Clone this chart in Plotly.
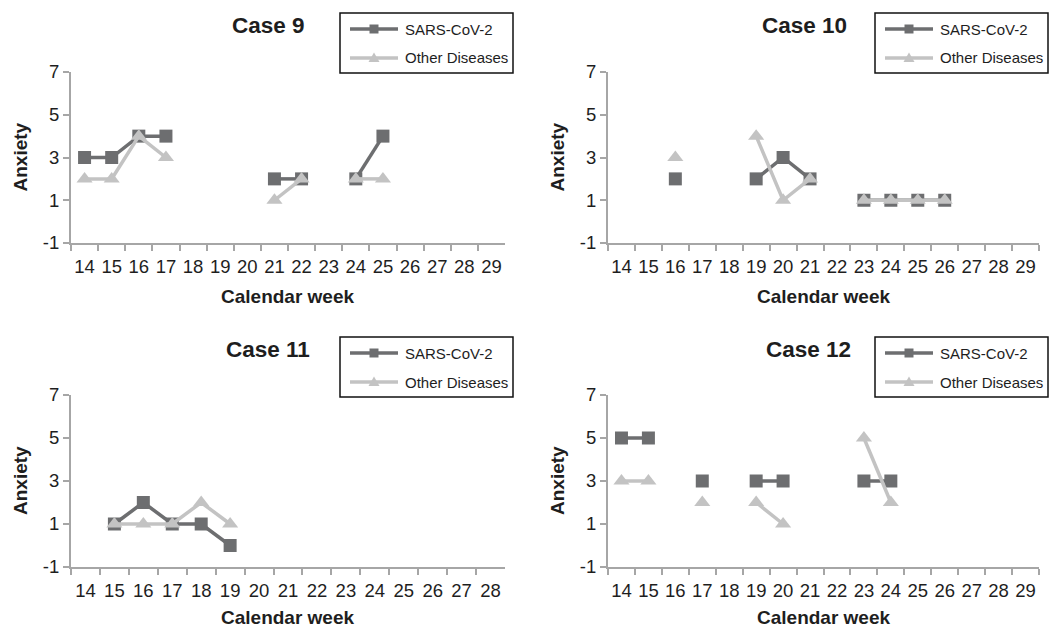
import plotly.graph_objects as go

weeks_a = [str(w) for w in range(14, 30)]
weeks_c11 = [str(w) for w in range(14, 29)]

case9_sars = [3, 3, 4, 4, None, None, None, 2, 2, None, 2, 4, None, None, None, None]
case9_other = [2, 2, 4, 3, None, None, None, 1, 2, None, 2, 2, None, None, None, None]

case10_sars = [None, None, 2, None, None, 2, 3, 2, None, 1, 1, 1, 1, None, None, None]
case10_other = [None, None, 3, None, None, 4, 1, 2, None, 1, 1, 1, 1, None, None, None]

case11_sars = [None, 1, 2, 1, 1, 0, None, None, None, None, None, None, None, None, None]
case11_other = [None, 1, 1, 1, 2, 1, None, None, None, None, None, None, None, None, None]

case12_sars = [5, 5, None, 3, None, 3, 3, None, None, 3, 3, None, None, None, None, None]
case12_other = [3, 3, None, 2, None, 2, 1, None, None, 5, 2, None, None, None, None, None]

titles = ["Case 9", "Case 10", "Case 11", "Case 12"]
series_names = ["SARS-CoV-2", "Other Diseases"]
y_ticks = [-1, 1, 3, 5, 7]
y_ticktext = ["-1", "1", "3", "5", "7"]

DARK = "#6d6e70"
LIGHT = "#c3c3c3"
AXIS = "#a6a6a6"
TXT = "#1e1e1e"
FONT = "Liberation Sans, Arial, sans-serif"

W, H = 1053, 628


def px(x):
    return x / W


def py(y):
    return 1 - y / H


panels = [
    dict(x=weeks_a, s=case9_sars, o=case9_other, px=(71, 505), py=(72, 243),
         title=(268, 25), leg=(340, 13), xt=297),
    dict(x=weeks_a, s=case10_sars, o=case10_other, px=(608, 1039), py=(72, 243),
         title=(804, 25), leg=(875, 13), xt=297),
    dict(x=weeks_c11, s=case11_sars, o=case11_other, px=(71, 505), py=(395, 567),
         title=(268, 349), leg=(340, 337), xt=617),
    dict(x=weeks_a, s=case12_sars, o=case12_other, px=(608, 1039), py=(395, 567),
         title=(808, 349), leg=(875, 337), xt=617),
]

fig = go.Figure()
layout = dict(
    width=W, height=H, margin=dict(l=0, r=0, t=0, b=0),
    paper_bgcolor="white", plot_bgcolor="white",
    font=dict(family=FONT, color=TXT),
    showlegend=False,
)
annotations = []
shapes = []
for i, p in enumerate(panels):
    n = "" if i == 0 else str(i + 1)
    xa = "x" + n
    ya = "y" + n
    fig.add_trace(go.Scatter(
        x=p["x"], y=p["s"], name=series_names[0], mode="lines+markers",
        line=dict(color=DARK, width=3.5), connectgaps=False,
        marker=dict(symbol="square", size=13, color=DARK),
        xaxis=xa, yaxis=ya,
    ))
    fig.add_trace(go.Scatter(
        x=p["x"], y=p["o"], name=series_names[1], mode="lines+markers",
        line=dict(color=LIGHT, width=3.5), connectgaps=False,
        marker=dict(symbol="triangle-up", size=14, color=LIGHT),
        xaxis=xa, yaxis=ya,
    ))
    x0, x1 = px(p["px"][0]), px(p["px"][1])
    y0, y1 = py(p["py"][1]), py(p["py"][0])
    layout["xaxis" + n] = dict(
        domain=[x0, x1], anchor=ya, type="category",
        categoryorder="array", categoryarray=p["x"],
        range=[-0.5, len(p["x"]) - 0.5], automargin=False,
        tickson="boundaries", ticks="outside", ticklen=6, tickwidth=2,
        tickcolor=AXIS, showline=True, linecolor=AXIS, linewidth=2,
        showgrid=False, zeroline=False, tickangle=0, ticklabelstandoff=6,
        tickfont=dict(size=18.5, color=TXT),
    )
    layout["yaxis" + n] = dict(
        domain=[y0, y1], anchor=xa, range=[-1, 7], tickvals=y_ticks,
        ticktext=y_ticktext, automargin=False,
        ticks="outside", ticklen=6, tickwidth=2, tickcolor=AXIS,
        showline=True, linecolor=AXIS, linewidth=2,
        showgrid=False, zeroline=False,
        tickfont=dict(size=18.5, color=TXT),
    )
    # axis titles
    annotations.append(dict(
        text="<b>Calendar week</b>", x=(x0 + x1) / 2, y=py(p["xt"]),
        xref="paper", yref="paper", xanchor="center", yanchor="middle",
        showarrow=False, font=dict(size=19, family=FONT, color=TXT),
    ))
    annotations.append(dict(
        text="<b>Anxiety</b>", x=px(p["px"][0] - 51), y=(y0 + y1) / 2,
        xref="paper", yref="paper", xanchor="center", yanchor="middle",
        textangle=-90, showarrow=False, font=dict(size=19, family=FONT, color=TXT),
    ))
    # panel title
    annotations.append(dict(
        text="<b>" + titles[i] + "</b>", x=px(p["title"][0]), y=py(p["title"][1]),
        xref="paper", yref="paper", xanchor="center", yanchor="middle",
        showarrow=False, font=dict(size=22.5, family=FONT, color=TXT),
    ))
    # legend box (drawn manually to mimic the reference layout)
    bx, by = p["leg"]
    shapes.append(dict(
        type="rect", xref="paper", yref="paper",
        x0=px(bx), x1=px(bx + 173), y0=py(by), y1=py(by + 60),
        line=dict(color="#111111", width=1.5), fillcolor="white", layer="above",
    ))
    for r, (nm, col) in enumerate(zip(series_names, [DARK, LIGHT])):
        yr = by + 16 + 29 * r
        shapes.append(dict(
            type="line", xref="paper", yref="paper",
            x0=px(bx + 10), x1=px(bx + 58), y0=py(yr), y1=py(yr),
            line=dict(color=col, width=3.5), layer="above",
        ))
        cx = bx + 34
        if r == 0:
            shapes.append(dict(
                type="rect", xref="paper", yref="paper",
                x0=px(cx - 4.5), x1=px(cx + 4.5), y0=py(yr - 4.5), y1=py(yr + 4.5),
                line=dict(width=0), fillcolor=col, layer="above",
            ))
        else:
            path = "M {:.5f},{:.5f} L {:.5f},{:.5f} L {:.5f},{:.5f} Z".format(
                px(cx), py(yr - 5.5), px(cx + 5.5), py(yr + 4), px(cx - 5.5), py(yr + 4))
            shapes.append(dict(
                type="path", xref="paper", yref="paper", path=path,
                line=dict(width=0), fillcolor=col, layer="above",
            ))
        annotations.append(dict(
            text=nm, x=px(bx + 63), y=py(yr), xref="paper", yref="paper",
            xanchor="left", yanchor="middle", showarrow=False,
            font=dict(size=15, family=FONT, color=TXT),
        ))
layout["annotations"] = annotations
layout["shapes"] = shapes
fig.update_layout(**layout)

fig.write_html("out.html", config={"displayModeBar": False})
with open("out.html", "r", encoding="utf-8") as f:
    html = f.read()
html = html.replace("<body>", '<body style="margin:0;overflow:hidden">', 1)
with open("out.html", "w", encoding="utf-8") as f:
    f.write(html)
